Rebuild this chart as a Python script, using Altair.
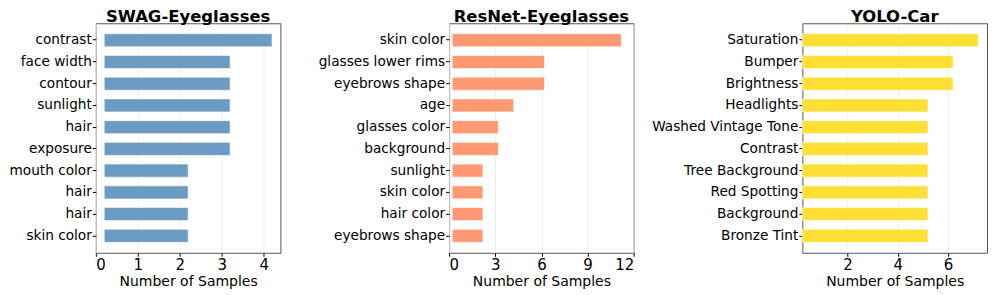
import json
import altair as alt
import pandas as pd

swag_labels = ["contrast", "face width", "contour", "sunlight", "hair", "exposure",
               "mouth color", "hair", "hair", "skin color"]
swag_values = [4.2, 3.2, 3.2, 3.2, 3.2, 3.2, 2.2, 2.2, 2.2, 2.2]

resnet_labels = ["skin color", "glasses lower rims", "eyebrows shape", "age", "glasses color",
                 "background", "sunlight", "skin color", "hair color", "eyebrows shape"]
resnet_values = [11.2, 6.2, 6.2, 4.2, 3.2, 3.2, 2.2, 2.2, 2.2, 2.2]

yolo_labels = ["Saturation", "Bumper", "Brightness", "Headlights", "Washed Vintage Tone",
               "Contrast", "Tree Background", "Red Spotting", "Background", "Bronze Tint"]
yolo_values = [7.2, 6.2, 6.2, 5.2, 5.2, 5.2, 5.2, 5.2, 5.2, 5.2]

BAR_START = 0.2
FONT = "DejaVu Sans"


def panel(title, labels, values, color, domain, ticks):
    df = pd.DataFrame({
        "idx": list(range(len(labels))),
        "start": [BAR_START] * len(labels),
        "value": values,
    })
    expr = "[" + ",".join(json.dumps(l) for l in labels) + "][datum.value]"
    return (
        alt.Chart(df, title=alt.Title(title, fontSize=16.5, fontWeight="bold", font=FONT,
                                      color="black", offset=-2))
        .mark_bar(color=color, stroke="white", strokeWidth=1, strokeOpacity=0.6)
        .encode(
            y=alt.Y("idx:O", sort="ascending",
                    scale=alt.Scale(paddingInner=0.4, paddingOuter=0.48),
                    axis=alt.Axis(title=None, labelExpr=expr, labelFontSize=13.7,
                                  labelPadding=1, grid=False)),
            x=alt.X("start:Q",
                    scale=alt.Scale(domain=domain, nice=False, zero=False),
                    axis=alt.Axis(values=ticks, title="Number of Samples", grid=True,
                                  labelFontSize=15, labelPadding=1, format="d")),
            x2="value:Q",
        )
        .properties(width=185, height=230)
    )


p1 = panel("SWAG-Eyeglasses", swag_labels, swag_values, "#6b9bc3", [0, 4.4], [0, 1, 2, 3, 4])
p2 = panel("ResNet-Eyeglasses", resnet_labels, resnet_values, "#ff9973", [0, 12], [0, 3, 6, 9, 12])
p3 = panel("YOLO-Car", yolo_labels, yolo_values, "#ffdf33", [0.2, 7.55], [2, 4, 6])

chart = (
    alt.hconcat(p1, p2, p3, spacing=169, bounds="flush")
    .properties(padding={"left": 0, "top": 0, "right": 0, "bottom": 0})
    .configure_view(stroke="#555555", strokeWidth=1)
    .configure_axis(
        labelFont=FONT, titleFont=FONT, labelColor="black", titleColor="black",
        tickColor="black", tickSize=3.5, domain=False,
        titleFontSize=14, titleFontWeight="normal", titlePadding=2,
        gridColor="#e8e8e8", gridWidth=0.8,
    )
)

chart.save("out.html", embed_options={"renderer": "svg", "actions": False})
